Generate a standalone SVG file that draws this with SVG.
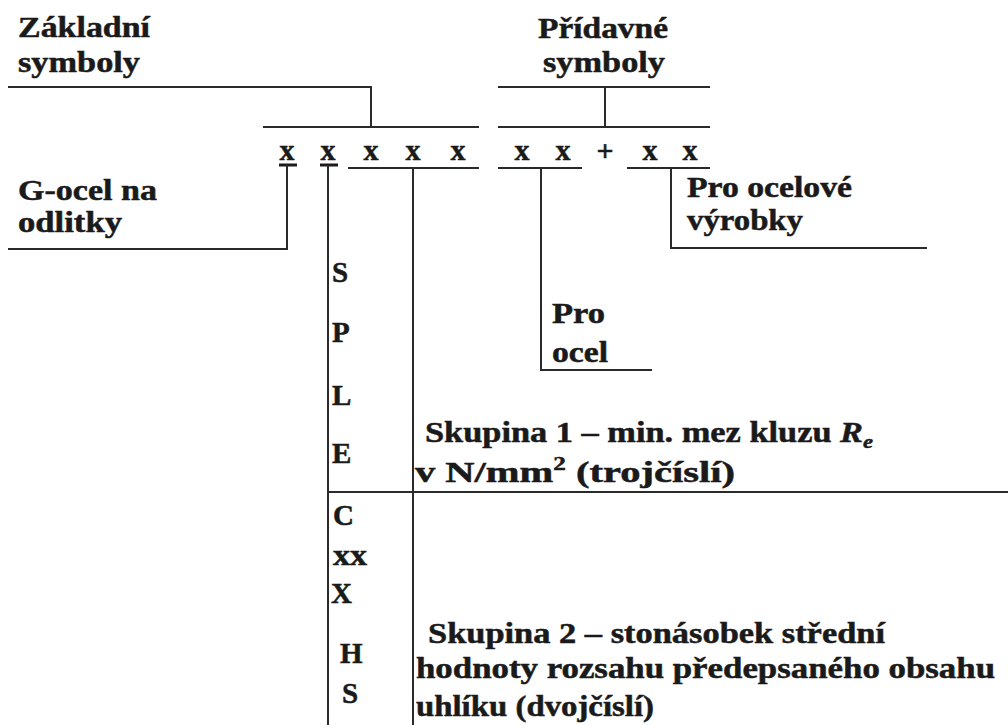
<svg xmlns="http://www.w3.org/2000/svg" width="1008" height="725" viewBox="0 0 1008 725">
<style>
  text { font-family: 'Liberation Serif', 'Times New Roman', serif; font-weight: bold; fill: #1a1a1a; stroke: #1a1a1a; stroke-width: 0.5px; }
  .t { font-size: 29px; }
  .x { font-size: 30px; text-anchor: middle; }
  .c { fill: none; stroke: #2a2a2a; stroke-width: 2; }
  .u { fill: none; stroke: #1a1a1a; stroke-width: 3; }
</style>
<rect width="1008" height="725" fill="#ffffff"/>

<g id="connectors">
  <polyline class="c" points="8,87 371,87 371,127"/>
  <line class="c" x1="263" y1="127" x2="479" y2="127"/>
  <line class="c" x1="498" y1="87" x2="710" y2="87"/>
  <line class="c" x1="605" y1="87" x2="605" y2="127"/>
  <line class="c" x1="498" y1="127" x2="710" y2="127"/>
  <line class="u" x1="279" y1="165" x2="297" y2="165"/>
  <line class="u" x1="320" y1="165" x2="338" y2="165"/>
  <polyline class="c" points="287,165 287,249 8,249"/>
  <line class="c" x1="328" y1="165" x2="328" y2="725"/>
  <line class="c" x1="348" y1="168" x2="479" y2="168"/>
  <line class="c" x1="413" y1="168" x2="413" y2="725"/>
  <line class="c" x1="498" y1="168" x2="582" y2="168"/>
  <polyline class="c" points="541,168 541,370 652,370"/>
  <line class="c" x1="627" y1="168" x2="710" y2="168"/>
  <polyline class="c" points="671,168 671,248 927,248"/>
  <line class="c" x1="328" y1="492" x2="1008" y2="492"/>
</g>

<g id="zakladni">
  <text class="t" x="18" y="37" textLength="132" lengthAdjust="spacingAndGlyphs">Základní</text>
  <text class="t" x="18" y="72" textLength="122" lengthAdjust="spacingAndGlyphs">symboly</text>
</g>
<g id="pridavne">
  <text class="t" x="538" y="38" textLength="130" lengthAdjust="spacingAndGlyphs">Přídavné</text>
  <text class="t" x="543" y="72" textLength="122" lengthAdjust="spacingAndGlyphs">symboly</text>
</g>
<g id="code">
  <text class="x" x="287" y="160">x</text>
  <text class="x" x="328" y="160">x</text>
  <text class="x" x="371" y="160">x</text>
  <text class="x" x="413" y="160">x</text>
  <text class="x" x="458" y="160">x</text>
  <text class="x" x="522" y="160">x</text>
  <text class="x" x="563" y="160">x</text>
  <text class="x" x="605" y="161" font-size="34">+</text>
  <text class="x" x="650" y="160">x</text>
  <text class="x" x="690" y="160">x</text>
</g>
<g id="g-ocel">
  <text class="t" x="18" y="200" textLength="139" lengthAdjust="spacingAndGlyphs">G-ocel na</text>
  <text class="t" x="18" y="232" textLength="104" lengthAdjust="spacingAndGlyphs">odlitky</text>
</g>
<g id="pro-ocelove">
  <text class="t" x="687" y="197" textLength="165" lengthAdjust="spacingAndGlyphs">Pro ocelové</text>
  <text class="t" x="687" y="230" textLength="116" lengthAdjust="spacingAndGlyphs">výrobky</text>
</g>
<g id="pro-ocel">
  <text class="t" x="552" y="323" textLength="53" lengthAdjust="spacingAndGlyphs">Pro</text>
  <text class="t" x="552" y="362" textLength="56" lengthAdjust="spacingAndGlyphs">ocel</text>
</g>
<g id="letters1">
  <text class="t" x="332" y="282">S</text>
  <text class="t" x="332" y="342">P</text>
  <text class="t" x="332" y="405">L</text>
  <text class="t" x="332" y="463">E</text>
</g>
<g id="letters2">
  <text class="t" x="333" y="525">C</text>
  <text class="t" x="333" y="565" textLength="34" lengthAdjust="spacingAndGlyphs">xx</text>
  <text class="t" x="331" y="603">X</text>
  <text class="t" x="340" y="663">H</text>
  <text class="t" x="342" y="703">S</text>
</g>
<g id="skupina1">
  <text class="t" x="425" y="442" textLength="448" lengthAdjust="spacingAndGlyphs">Skupina 1 – min. mez kluzu <tspan font-style="italic">R</tspan><tspan font-style="italic" font-size="19" dy="6">e</tspan></text>
  <text class="t" x="415" y="482" textLength="320" lengthAdjust="spacingAndGlyphs">v N/mm<tspan font-size="18" dy="-12">2</tspan><tspan dy="12"> (trojčíslí)</tspan></text>
</g>
<g id="skupina2">
  <text class="t" x="428" y="643" textLength="457" lengthAdjust="spacingAndGlyphs">Skupina 2 – stonásobek střední</text>
  <text class="t" x="416" y="678" textLength="579" lengthAdjust="spacingAndGlyphs">hodnoty rozsahu předepsaného obsahu</text>
  <text class="t" x="416" y="716" textLength="238" lengthAdjust="spacingAndGlyphs">uhlíku (dvojčíslí)</text>
</g>
</svg>
